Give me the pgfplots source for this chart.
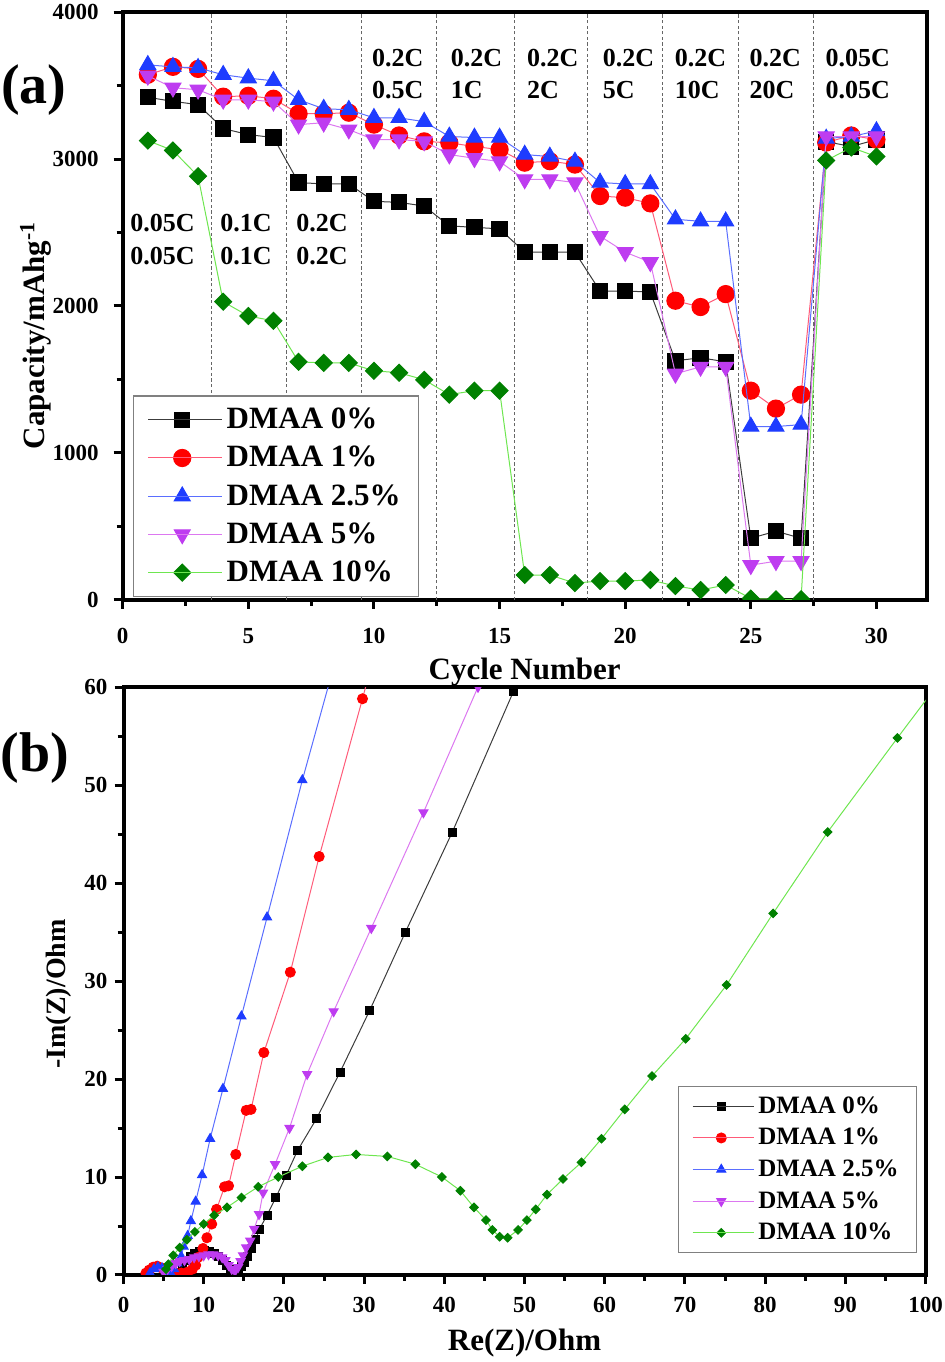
\documentclass[border=0pt]{standalone}
\usepackage{fontspec}
\setmainfont{Liberation Serif}
\usepackage{pgfplots}
\usepackage{pgfplotstable}
\pgfplotsset{compat=1.18}

% marker colours and (lighter) line colours
\definecolor{mk0}{RGB}{0,0,0}
\definecolor{mk1}{RGB}{255,0,0}
\definecolor{mk2}{RGB}{30,60,255}
\definecolor{mk3}{RGB}{190,60,240}
\definecolor{mk4}{RGB}{0,128,0}
\definecolor{ln0}{RGB}{60,60,60}
\definecolor{ln1}{RGB}{255,90,120}
\definecolor{ln2}{RGB}{90,110,255}
\definecolor{ln3}{RGB}{220,120,240}
\definecolor{ln4}{RGB}{110,230,80}

% rate capability, capacity in mAh/g
\pgfplotstableread{
cyc d0   d1   d25  d5   d10
1   3420 3573 3640 3566 3125
2   3392 3627 3627 3485 3058
3   3370 3613 3620 3471 2883
4   3207 3424 3573 3403 2029
5   3166 3430 3550 3403 1932
6   3146 3410 3532 3390 1899
7   2840 3308 3403 3234 1620
8   2830 3308 3342 3247 1613
9   2830 3315 3335 3200 1613
10  2712 3234 3280 3132 1559
11  2705 3160 3280 3132 1546
12  2680 3120 3254 3120 1498
13  2545 3110 3153 3030 1397
14  2535 3085 3146 3005 1424
15  2525 3064 3146 2983 1424
16  2366 2975 3030 2861 170
17  2366 2985 3017 2861 170
18  2366 2962 2983 2840 115
19  2102 2748 2840 2475 129
20  2102 2737 2830 2366 129
21  2095 2698 2830 2298 136
22  1627 2036 2590 1539 95
23  1648 1993 2576 1586 68
24  1620 2081 2576 1586 102
25  420  1424 1180 237  10
26  468  1302 1180 264  5
27  420  1397 1193 264  5
28  3118 3112 3139 3153 2990
29  3085 3160 3153 3153 3078
30  3132 3132 3190 3153 3017
}\ratetab

\pgfplotsset{
  panel/.style={
    scale only axis,
    axis line style={line width=2pt},
    tick pos=left, tick align=outside,
    major tick length=4.5pt, minor tick length=3pt,
    tick style={line width=1.5pt, black},
    tick label style={font=\bfseries\fontsize{11.5}{13}\selectfont},
    /pgf/number format/assume math mode=true,
    /pgf/number format/1000 sep={},
    scaled ticks=false,
    clip marker paths=true,
    legend cell align=left,
  },
  s0/.style={color=ln0, line width=0.5pt, mark=square*, mark size=#1,
    mark options={solid, fill=mk0, draw=mk0}},
  s1/.style={color=ln1, line width=0.5pt, mark=*, mark size=#1,
    mark options={solid, fill=mk1, draw=mk1}},
  s2/.style={color=ln2, line width=0.5pt, mark=triangle*, mark size=#1,
    mark options={solid, fill=mk2, draw=mk2}},
  s3/.style={color=ln3, line width=0.5pt, mark=triangle*, mark size=#1,
    mark options={solid, rotate=180, fill=mk3, draw=mk3}},
  s4/.style={color=ln4, line width=0.5pt, mark=square*, mark size=#1,
    mark options={solid, rotate=45, fill=mk4, draw=mk4}},
}

% two-line rate label: x, y of first baseline, y of second baseline, texts
\newcommand\ratelab[5]{%
  \node[anchor=base west, inner sep=0, font=\bfseries\fontsize{13}{15}\selectfont]
    at (axis cs:#1,#2) {#4};
  \node[anchor=base west, inner sep=0, font=\bfseries\fontsize{13}{15}\selectfont]
    at (axis cs:#1,#3) {#5};
}

\begin{document}
\begin{tikzpicture}
\useasboundingbox (0,0) rectangle (472.5pt,681pt);

% ---------------- (a) rate performance ----------------
\begin{axis}[panel,
  at={(61.35pt,381pt)}, anchor=south west,
  width=402pt, height=294pt,
  xmin=0, xmax=32, ymin=0, ymax=4000,
  xtick={0,5,...,30}, minor x tick num=1,
  ytick={0,1000,...,4000}, minor y tick num=1,
  xticklabel style={yshift=-6pt},
  yticklabel style={xshift=-4pt},
  xlabel={Cycle Number},
  ylabel={Capacity/mAhg\textsuperscript{-1}},
  x label style={at={(axis description cs:0.5,-0.136)}, anchor=base,
    font=\bfseries\fontsize{15.5}{18}\selectfont},
  y label style={at={(axis description cs:-0.097,0.45)}, anchor=base,
    font=\bfseries\fontsize{15.5}{18}\selectfont},
  legend style={at={(0.013,0.005)}, anchor=south west, draw=gray,
    line width=0.6pt, font=\bfseries\fontsize{15.5}{18}\selectfont,
    row sep=3.3pt, inner xsep=7pt, inner ysep=4pt},
  legend image code/.code={\draw[mark repeat=2,mark phase=2]
    plot coordinates {(0pt,0pt) (17pt,0pt) (34pt,0pt)};
    \path (0pt,0pt) -- (37pt,0pt);},
]
\pgfplotsinvokeforeach{3.55,6.5,9.5,12.5,15.6,18.5,21.5,24.5,27.5}{
  \draw[gray!80!black, line width=0.5pt, dash pattern=on 1.6pt off 1.2pt]
    (axis cs:#1,0) -- (axis cs:#1,4000);
}
\addplot[s0=3.8pt] table[x=cyc, y=d0] {\ratetab};
\addplot[s1=4.3pt] table[x=cyc, y=d1] {\ratetab};
\addplot[s2=4.6pt] table[x=cyc, y=d25] {\ratetab};
\addplot[s3=4.6pt] table[x=cyc, y=d5] {\ratetab};
\addplot[s4=3pt] table[x=cyc, y=d10] {\ratetab};
\legend{DMAA 0\%, DMAA 1\%, DMAA 2.5\%, DMAA 5\%, DMAA 10\%}

\ratelab{0.29}{2508}{2285}{0.05C}{0.05C}
\ratelab{3.87}{2508}{2285}{0.1C}{0.1C}
\ratelab{6.9}{2508}{2285}{0.2C}{0.2C}
\ratelab{9.91}{3627}{3410}{0.2C}{0.5C}
\ratelab{13.05}{3627}{3410}{0.2C}{1C}
\ratelab{16.08}{3627}{3410}{0.2C}{2C}
\ratelab{19.1}{3627}{3410}{0.2C}{5C}
\ratelab{21.96}{3627}{3410}{0.2C}{10C}
\ratelab{24.94}{3627}{3410}{0.2C}{20C}
\ratelab{27.96}{3627}{3410}{0.05C}{0.05C}
\end{axis}

% ---------------- (b) Nyquist plots ----------------
\begin{axis}[panel,
  at={(61.75pt,43.5pt)}, anchor=south west,
  width=401pt, height=294pt,
  xmin=0, xmax=100, ymin=0, ymax=60,
  xtick={0,10,...,100}, minor x tick num=1,
  ytick={0,10,...,60}, minor y tick num=1,
  xticklabel style={yshift=-3pt},
  xlabel={Re(Z)/Ohm},
  ylabel={-Im(Z)/Ohm},
  x label style={at={(axis description cs:0.5,-0.128)}, anchor=base,
    font=\bfseries\fontsize{15.5}{18}\selectfont},
  y label style={at={(axis description cs:-0.072,0.478)}, anchor=base,
    font=\bfseries\fontsize{14}{17}\selectfont},
  legend style={at={(0.691,0.037)}, anchor=south west, draw=gray,
    line width=0.6pt, font=\bfseries\fontsize{12.5}{14}\selectfont,
    row sep=2pt, inner xsep=7pt, inner ysep=3pt},
  legend image code/.code={\draw[mark repeat=2,mark phase=2]
    plot coordinates {(0pt,0pt) (14.25pt,0pt) (28.5pt,0pt)};
    \path (0pt,0pt) -- (30.5pt,0pt);},
]
\addplot[s0=2pt] coordinates {
(7.0,0.3) (7.4,0.9) (7.8,1.5) (8.3,1.9) (8.9,2.2) (9.5,2.4) (10.1,2.5)
(10.7,2.4) (11.3,2.2) (11.9,1.9) (12.4,1.5) (12.9,1.0) (13.4,0.6) (13.8,0.3)
(14.3,0.5) (14.7,0.9) (15.1,1.3) (15.5,1.9) (16.0,2.7) (16.5,3.6) (16.9,4.6)
(17.9,6.1) (19.0,7.9) (20.3,10.2) (21.7,12.7) (24.1,16.0) (27.0,20.7)
(30.7,27.0) (35.1,34.9) (41.0,45.2) (48.6,59.5) (50.5,63.2)
};
\addplot[s1=2.5pt] coordinates {
(2.8,0.2) (3.2,0.5) (3.7,0.8) (4.2,0.9) (4.8,0.7) (5.5,0.5) (6.3,0.3)
(7.2,0.2) (8.0,0.3) (8.6,0.6) (9.0,1.0) (9.3,1.8) (9.9,2.7) (10.4,3.8)
(11.0,5.2) (11.6,6.7) (12.6,9.0) (13.1,9.1) (14.0,12.3) (15.3,16.8)
(15.9,16.9) (17.5,22.7) (20.8,30.9) (24.4,42.7) (29.8,58.8) (31.0,62.5)
};
\addplot[s2=2.6pt] coordinates {
(3.3,0.2) (3.8,0.6) (4.3,0.8) (4.8,0.7) (5.3,0.5) (5.8,0.3) (6.3,0.6)
(6.7,1.2) (7.2,1.9) (7.5,2.9) (8.0,4.0) (8.4,5.5) (9.0,7.5) (9.8,10.2)
(10.8,13.9) (12.4,19.0) (14.7,26.4) (17.9,36.5) (22.3,50.5) (27.3,65.3)
};
\addplot[s3=2.6pt] coordinates {
(5.0,0.3) (5.5,0.6) (6.0,0.9) (6.5,1.2) (7.0,1.4) (7.6,1.5) (8.2,1.6)
(8.8,1.8) (9.4,1.9) (10.0,2.0) (10.6,2.1) (11.2,2.1) (11.8,2.0) (12.3,1.8)
(12.7,1.5) (13.1,1.0) (13.5,0.6) (13.9,0.4) (14.3,0.8) (14.6,1.4) (14.9,2.0)
(15.3,2.8) (15.8,3.5) (16.3,4.7) (16.9,6.2) (17.4,8.4) (18.9,11.3)
(20.7,15.0) (22.9,20.5) (26.2,26.9) (30.9,35.4) (37.4,47.2) (44.2,60.0)
(46.0,63.5)
};
\addplot[s4=1.5pt] coordinates {
(5.3,0.6) (5.6,1.1) (6.2,2.0) (7.0,2.8) (7.9,3.6) (8.9,4.4) (10.0,5.2)
(11.3,6.1) (12.9,6.9) (14.7,7.9) (16.8,9.0) (19.3,10.0) (22.3,11.1)
(25.5,12.0) (29.0,12.3) (32.9,12.1) (36.4,11.3) (39.7,10.0) (42.0,8.6)
(43.7,6.9) (45.2,5.6) (46.0,4.6) (46.9,3.9) (47.9,3.8) (49.2,4.6)
(50.3,5.6) (51.4,6.7) (52.8,8.2) (54.8,9.8) (57.1,11.5) (59.6,13.9)
(62.5,16.9) (65.9,20.3) (70.1,24.1) (75.2,29.6) (81.0,36.9) (87.8,45.2)
(96.5,54.8) (101.0,59.7)
};
\legend{DMAA 0\%, DMAA 1\%, DMAA 2.5\%, DMAA 5\%, DMAA 10\%}
\end{axis}

\node[font=\bfseries\fontsize{28}{30}\selectfont] at (17pt,636pt) {(a)};
\node[font=\bfseries\fontsize{28}{30}\selectfont] at (17.5pt,302pt) {(b)};
\end{tikzpicture}
\end{document}
